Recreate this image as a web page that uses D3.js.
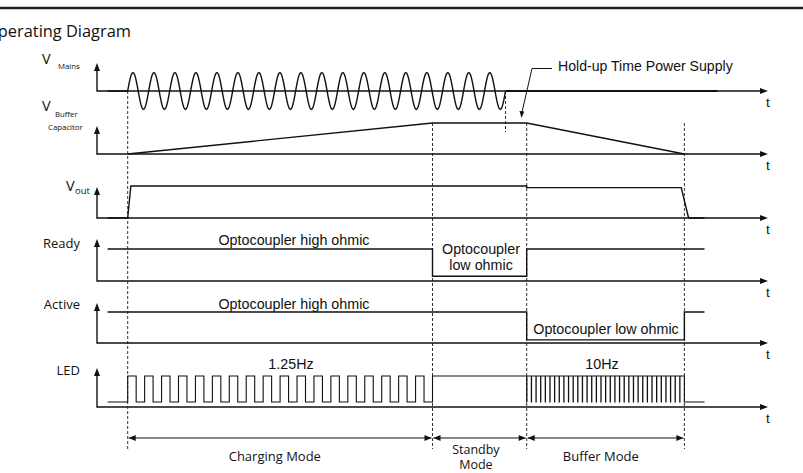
<!DOCTYPE html>
<html>
<head>
<meta charset="utf-8">
<script src="https://cdn.jsdelivr.net/npm/d3@7"></script>
<style>
body { margin: 0; background: #fff; }
svg { display: block; }
.sans { font-family: "Open Sans", "Noto Sans", sans-serif; fill: #111; }
.arial { font-family: "Liberation Sans", Arial, sans-serif; fill: #111; }
</style>
</head>
<body>
<svg width="803" height="473"></svg>
<script>
// event times (seconds, schematic)
var tStart = 0.5, tMainsOn = 1.45, tChargeEnd = 15.85, tMainsOff = 19.3,
    tBufferStart = 20.3, tBufferEnd = 27.75, tSignalEnd = 28.7, tMainsLineEnd = 29.3, tAxisEnd = 31.7;

// waveform data, levels 0..1
var mainsCycles = 18;
var ledSlowPulses = 18;   // 1.25Hz in charging mode
var ledFastPulses = 34;   // 10Hz in buffer mode
var ledLow = 0.16;

var bufferCap = [[tMainsOn, 0], [tChargeEnd, 1], [tBufferStart, 1], [tBufferEnd, 0]];
var vout = [[tStart, 0], [tMainsOn, 0], [1.6, 1], [tBufferStart, 1], [tBufferStart, 0.95],
            [27.6, 0.95], [27.95, 0], [tSignalEnd, 0]];
var ready = [[tStart, 1], [tChargeEnd, 1], [tChargeEnd, 0.15], [tBufferStart, 0.15],
             [tBufferStart, 1], [tSignalEnd, 1]];
var active = [[tStart, 1], [tBufferStart, 1], [tBufferStart, 0.1], [tBufferEnd, 0.1],
              [tBufferEnd, 1], [tSignalEnd, 1]];

var rowLabels = ['V', 'V', 'V', 'Ready', 'Active', 'LED'];
var dashTimes = [tMainsOn, tChargeEnd, tMainsOff, tBufferStart, tBufferEnd];
var modes = ['Charging Mode', 'Standby|Mode', 'Buffer Mode'];
var modeStarts = [tMainsOn, tChargeEnd, tBufferStart];
var modeEnds = [tChargeEnd, tBufferStart, tBufferEnd];
var modeLabelAt = [8.4, 17.9, 23.8];

// layout
var rowBase = [91, 154, 218, 281, 343, 407];
var rowSpan = [18.5, 31, 32, 32, 31, 31];
var rowTip = [63, 126, 187, 239, 303, 368];

var svg = d3.select('svg');

var x = d3.scaleLinear().domain([0, tAxisEnd]).range([97, 768]);
var y = rowBase.map(function(b, i){
    return d3.scaleLinear().domain([0, 1]).range([b, b - rowSpan[i]]);
});

var line = function(ys){
    return d3.line()
        .x(function(d){ return x(d[0]); })
        .y(function(d){ return ys(d[1]); });
};

// top rule + title
svg.append('line')
    .attr('x1', 0).attr('x2', 803).attr('y1', 8).attr('y2', 8)
    .attr('stroke', '#222').attr('stroke-width', 2.5);
svg.append('text')
    .attr('class', 'sans')
    .attr('x', 131).attr('y', 37)
    .attr('text-anchor', 'end')
    .attr('font-size', 16.4)
    .text('Operating Diagram');

// dashed guides
var dashTop = [rowBase[0], y[1](1), rowBase[0], y[1](1), y[1](1)];
var dashBottom = [449, 449, 132, 449, 449];
svg.selectAll('.guide')
    .data(dashTimes)
    .enter()
    .append('line')
    .attr('class', 'guide')
    .attr('x1', function(d){ return x(d); })
    .attr('x2', function(d){ return x(d); })
    .attr('y1', function(d, i){ return dashTop[i]; })
    .attr('y2', function(d, i){ return dashBottom[i]; })
    .attr('stroke', '#333')
    .attr('stroke-width', 1)
    .attr('stroke-dasharray', '3,2');

// axes with arrows
var axisX0 = x(0), axisX1 = x(tAxisEnd);
rowBase.forEach(function(b, i){
    svg.append('path')
        .attr('d', 'M' + axisX0 + ',' + (rowTip[i] + 6) + 'V' + b + 'H' + (axisX1 - 6))
        .attr('fill', 'none').attr('stroke', '#111').attr('stroke-width', 1.4);
    svg.append('path')
        .attr('d', 'M' + axisX0 + ',' + rowTip[i] + 'L' + (axisX0 - 3) + ',' + (rowTip[i] + 8) +
                   'L' + (axisX0 + 3) + ',' + (rowTip[i] + 8) + 'Z')
        .attr('fill', '#111');
    svg.append('path')
        .attr('d', 'M' + axisX1 + ',' + b + 'L' + (axisX1 - 8) + ',' + (b - 3) +
                   'L' + (axisX1 - 8) + ',' + (b + 3) + 'Z')
        .attr('fill', '#111');
    svg.append('text')
        .attr('class', 'arial')
        .attr('x', axisX1 - 2).attr('y', b + 16)
        .attr('font-size', 13.5)
        .text('t');
});

// mains sine
var mainsPts = [[tStart, 0], [tMainsOn, 0]];
var nS = mainsCycles * 24;
for (var k = 0; k <= nS; k++) {
    var tt = tMainsOn + (tMainsOff - tMainsOn) * k / nS;
    mainsPts.push([tt, Math.sin(2 * Math.PI * mainsCycles * k / nS)]);
}
svg.append('path')
    .attr('d', line(y[0])(mainsPts))
    .attr('fill', 'none').attr('stroke', '#111').attr('stroke-width', 1.4);
svg.append('path')
    .attr('d', line(y[0])([[tMainsOff, 0], [tMainsLineEnd, 0]]))
    .attr('fill', 'none').attr('stroke', '#111').attr('stroke-width', 1.8);

// simple signals
[[1, bufferCap], [2, vout], [3, ready], [4, active]].forEach(function(s){
    svg.append('path')
        .attr('d', line(y[s[0]])(s[1]))
        .attr('fill', 'none').attr('stroke', '#111').attr('stroke-width', 1.4);
});

// LED
var led = [[tStart, ledLow], [tMainsOn, ledLow]];
var per = (tChargeEnd - tMainsOn) / ledSlowPulses;
for (var p = 0; p < ledSlowPulses; p++) {
    var t0 = tMainsOn + p * per;
    led.push([t0, ledLow], [t0, 1], [t0 + per / 2, 1], [t0 + per / 2, ledLow], [t0 + per, ledLow]);
}
led.push([tChargeEnd, 1]);
var fper = (tBufferEnd - tBufferStart) / ledFastPulses;
for (var q = 0; q < ledFastPulses; q++) {
    var f0 = tBufferStart + q * fper;
    led.push([f0, 1], [f0, ledLow], [f0 + 0.01, ledLow], [f0 + 0.01, 1]);
}
led.push([tBufferEnd, 1], [tBufferEnd, ledLow], [tSignalEnd, ledLow]);
svg.append('path')
    .attr('d', line(y[5])(led))
    .attr('fill', 'none').attr('stroke', '#111').attr('stroke-width', 1.1);

// row labels
svg.selectAll('.rowlab')
    .data(rowLabels.slice(3))
    .enter()
    .append('text')
    .attr('class', 'sans')
    .attr('x', 80)
    .attr('y', function(d, i){ return [248, 309, 375][i]; })
    .attr('text-anchor', 'end')
    .attr('font-size', 13)
    .text(function(d){ return d; });

var vText = [[42, 64, 'Mains', 58, 69, 7.8], [42, 111, 'Buffer', 55, 117, 7.8], [66, 191, 'out', 75, 194, 9.5]];
vText.forEach(function(v, i){
    svg.append('text').attr('class', 'sans')
        .attr('x', v[0]).attr('y', v[1]).attr('font-size', 14.5).text(rowLabels[i]);
    svg.append('text').attr('class', 'sans')
        .attr('x', v[3]).attr('y', v[4]).attr('font-size', v[5]).text(v[2]);
});
svg.append('text').attr('class', 'sans')
    .attr('x', 48).attr('y', 130).attr('font-size', 7.8).text('Capacitor');

// in-diagram annotations
var notes = [
    ['Optocoupler high ohmic', 294, 245],
    ['Optocoupler', 481, 254],
    ['low ohmic', 481, 270],
    ['Optocoupler high ohmic', 294, 309],
    ['Optocoupler low ohmic', 606, 334],
    ['1.25Hz', 291, 368.5],
    ['10Hz', 602, 368.5]
];
svg.selectAll('.note')
    .data(notes)
    .enter()
    .append('text')
    .attr('class', 'arial')
    .attr('x', function(d){ return d[1]; })
    .attr('y', function(d){ return d[2]; })
    .attr('text-anchor', 'middle')
    .attr('font-size', 14.3)
    .text(function(d){ return d[0]; });

// hold-up callout
svg.append('text').attr('class', 'arial')
    .attr('x', 558).attr('y', 71).attr('font-size', 14.1)
    .text('Hold-up Time Power Supply');
svg.append('path')
    .attr('d', 'M552,68.5H' + x(20.55) + 'L' + x(20.08) + ',112')
    .attr('fill', 'none').attr('stroke', '#111').attr('stroke-width', 1);
svg.append('path')
    .attr('d', 'M' + x(20.06) + ',118L' + (x(20.06) - 2.2) + ',111L' + (x(20.06) + 2.6) + ',111.5Z')
    .attr('fill', '#111');

// mode arrows
var my = 438;
modes.forEach(function(m, i){
    var a = x(modeStarts[i]) + 1, b = x(modeEnds[i]) - 1;
    svg.append('line')
        .attr('x1', a).attr('x2', b).attr('y1', my).attr('y2', my)
        .attr('stroke', '#111').attr('stroke-width', 1);
    svg.append('path')
        .attr('d', 'M' + a + ',' + my + 'L' + (a + 7) + ',' + (my - 3) + 'L' + (a + 7) + ',' + (my + 3) + 'Z')
        .attr('fill', '#111');
    svg.append('path')
        .attr('d', 'M' + b + ',' + my + 'L' + (b - 7) + ',' + (my - 3) + 'L' + (b - 7) + ',' + (my + 3) + 'Z')
        .attr('fill', '#111');
    var parts = m.split('|');
    var lab = svg.append('text').attr('class', 'sans')
        .attr('x', x(modeLabelAt[i]))
        .attr('y', parts.length > 1 ? 454 : 460.7)
        .attr('text-anchor', 'middle')
        .attr('font-size', parts.length > 1 ? 12.5 : 13);
    parts.forEach(function(s, j){
        lab.append('tspan')
            .attr('x', x(modeLabelAt[i]))
            .attr('dy', j === 0 ? 0 : 15.3)
            .text(s);
    });
});
</script>
</body>
</html>
